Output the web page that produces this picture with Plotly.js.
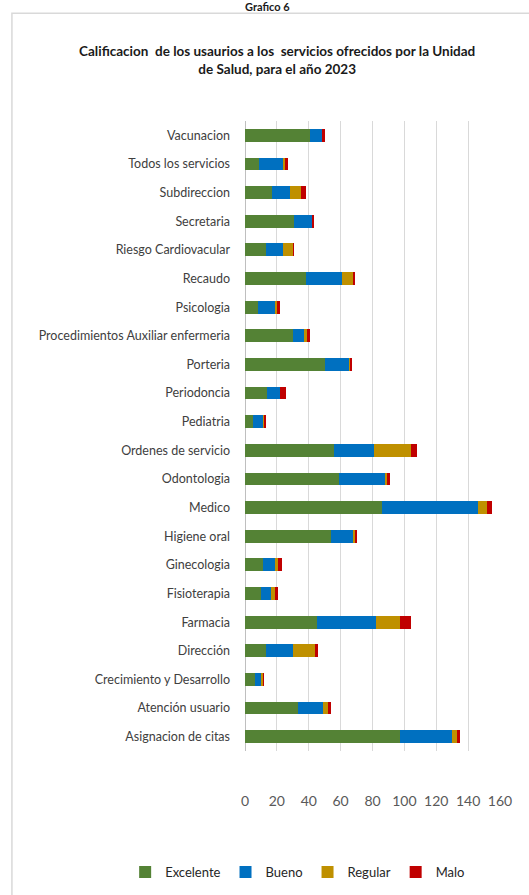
<!DOCTYPE html>
<html>
<head>
<meta charset="utf-8">
<script src="https://cdn.plot.ly/plotly-3.0.1.min.js"></script>
<style>html,body{margin:0;padding:0;background:#fff;}#chart{width:529px;height:895px;}</style>
</head>
<body>
<div id="chart"></div>
<script>
const categories = ["Vacunacion","Todos los servicios","Subdireccion","Secretaria","Riesgo Cardiovacular","Recaudo","Psicologia","Procedimientos Auxiliar enfermeria","Porteria","Periodoncia","Pediatria","Ordenes de servicio","Odontologia","Medico","Higiene oral","Ginecologia","Fisioterapia","Farmacia","Dirección","Crecimiento y Desarrollo","Atención usuario","Asignacion de citas"];
const excelente = [41, 9, 17, 31, 13, 38, 8, 30, 50, 14, 5, 56, 59, 86, 54, 11, 10, 45, 13, 6, 33, 97];
const bueno     = [7, 15, 11, 11, 11, 23, 11, 7, 15, 8, 6, 25, 29, 60, 14, 8, 6, 37, 17, 4, 16, 33];
const regular   = [0, 1, 7, 0, 6, 7, 1, 2, 1, 0, 1, 23, 1, 6, 1, 2, 3, 15, 14, 1, 3, 3];
const malo      = [2, 2, 3, 1, 1, 1, 2, 2, 1, 4, 1, 4, 2, 3, 1, 2, 2, 7, 2, 1, 2, 2];
const xTicks = [0, 20, 40, 60, 80, 100, 120, 140, 160];

const seriesNames = ["Excelente", "Bueno", "Regular", "Malo"];
const seriesValues = [excelente, bueno, regular, malo];
const seriesColors = ["#548235", "#0070C0", "#BF9000", "#C00000"];

const FONT = "Lato, 'Liberation Sans', sans-serif";

const traces = seriesNames.map((n, i) => ({
  type: "bar",
  orientation: "h",
  name: n,
  y: categories,
  x: seriesValues[i],
  marker: {color: seriesColors[i], line: {width: 0}},
  hoverinfo: "x+y+name"
}));

const layout = {
  width: 529, height: 895,
  paper_bgcolor: "#ffffff", plot_bgcolor: "#ffffff",
  margin: {l: 245, r: 29, t: 121, b: 144, autoexpand: false},
  barmode: "stack",
  bargap: 0.55,
  showlegend: true,
  font: {family: FONT, color: "#404040", size: 12},
  title: {
    text: "<b>Calificacion  de los usaurios a los  servicios ofrecidos por la Unidad<br>de Salud, para el año 2023</b>",
    font: {family: FONT, size: 13.5, color: "#1a1a1a"},
    x: 0.524, xanchor: "center", xref: "container",
    y: 0.937, yanchor: "middle", yref: "container"
  },
  xaxis: {
    range: [0, 160],
    tickvals: xTicks,
    ticktext: xTicks.map(String),
    showgrid: true, gridcolor: "#d9d9d9", gridwidth: 1,
    zeroline: true, zerolinecolor: "#bfbfbf", zerolinewidth: 1,
    showline: false,
    ticks: "",
    ticklabelstandoff: 40,
    tickfont: {family: FONT, size: 14, color: "#595959"},
    fixedrange: true
  },
  yaxis: {
    autorange: "reversed",
    type: "category",
    showgrid: false, zeroline: false, showline: false,
    ticks: "",
    ticklabelstandoff: 14,
    tickfont: {family: FONT, size: 12.5, color: "#404040"},
    fixedrange: true
  },
  legend: {
    orientation: "h",
    x: -0.47, xanchor: "left",
    y: -0.192, yanchor: "middle",
    font: {family: FONT, size: 13, color: "#262626"},
    itemwidth: 30,
    traceorder: "normal"
  },
  shapes: [{
    type: "rect", xref: "paper", yref: "paper",
    x0: -0.914, x1: 1.3, y0: -0.4, y1: 1.171,
    line: {color: "#d9d9d9", width: 1.5}, fillcolor: "rgba(0,0,0,0)", layer: "below"
  }],
  annotations: [{
    xref: "paper", yref: "paper",
    x: 0.09, y: 1.181, xanchor: "center", yanchor: "middle",
    text: "<b>Grafico 6</b>", showarrow: false,
    font: {family: FONT, size: 11, color: "#1a1a1a"}
  }]
};

Plotly.newPlot("chart", traces, layout, {displayModeBar: false, staticPlot: true});
</script>
</body>
</html>
